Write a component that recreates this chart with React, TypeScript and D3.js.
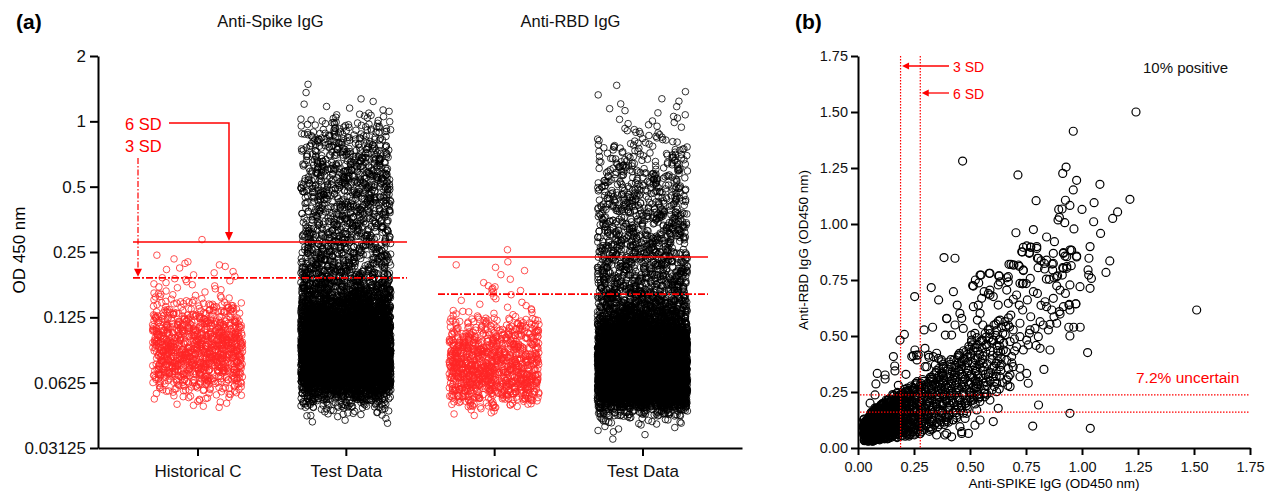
import React, { useRef, useEffect } from "react";
import * as d3 from "d3";

const FONT = "'Liberation Sans', Arial, Helvetica, sans-serif";
const RED = "#ff0000";
const RED_PT = "#ff2626";

// ---------- panel (a) data ----------
// OD450 bin centres, steps of 1/8 in log2
const odBins = [
  0.0353, 0.0385, 0.042, 0.0458, 0.05, 0.0545, 0.0595, 0.0648, 0.0707, 0.0771, 0.0841,
  0.0917, 0.1, 0.109, 0.119, 0.13, 0.1414, 0.1542, 0.1682, 0.1834, 0.2, 0.218, 0.238,
  0.259, 0.283, 0.308, 0.336, 0.367, 0.4, 0.436, 0.476, 0.519, 0.566, 0.617, 0.673,
  0.734, 0.8, 0.872, 0.951, 1.037, 1.131, 1.234, 1.345, 1.467,
];
const groupKeys = ["spikeHist", "spikeTest", "rbdHist", "rbdTest"];
const groupLabels = ["Historical C", "Test Data", "Historical C", "Test Data"];
const panelTitles = ["Anti-Spike IgG", "Anti-RBD IgG"];
// number of samples per OD bin
const spikeHistCounts = [
  0, 0, 0, 0, 8, 18, 40, 70, 100, 120, 130, 130, 120, 100, 80, 55, 35, 15, 8, 8, 5, 5, 2,
  0, 1, 0, 0, 0, 0, 0, 0, 0, 0, 0, 0, 0, 0, 0, 0, 0, 0, 0, 0, 0,
];
const spikeTestCounts = [
  0, 0, 5, 20, 60, 150, 300, 450, 550, 600, 600, 580, 520, 450, 380, 320, 260, 200, 150,
  115, 95, 82, 76, 72, 68, 66, 64, 64, 64, 66, 68, 70, 68, 64, 58, 52, 46, 38, 28, 13, 5,
  3, 1, 1,
];
const rbdHistCounts = [
  0, 0, 0, 6, 35, 80, 110, 130, 130, 125, 115, 100, 80, 60, 40, 12, 5, 4, 7, 2, 2, 3, 0,
  1, 0, 0, 0, 0, 0, 0, 0, 0, 0, 0, 0, 0, 0, 0, 0, 0, 0, 0, 0, 0,
];
const rbdTestCounts = [
  2, 6, 20, 80, 250, 450, 600, 680, 700, 680, 620, 540, 450, 360, 270, 190, 140, 115, 98,
  88, 82, 78, 74, 70, 68, 66, 62, 58, 55, 52, 48, 43, 38, 34, 29, 22, 16, 10, 7, 5, 4, 3,
  2, 1,
];
const yTickValues = [0.03125, 0.0625, 0.125, 0.25, 0.5, 1, 2];
const yTickLabels = ["0.03125", "0.0625", "0.125", "0.25", "0.5", "1", "2"];
const spikeCutoffs = [0.278, 0.19]; // 6 SD, 3 SD
const rbdCutoffs = [0.237, 0.16]; // 6 SD, 3 SD

// ---------- panel (b) data ----------
// dense diagonal band: x bin centre, y range and count
const bandX = [
  0.0375, 0.0625, 0.0875, 0.1125, 0.1375, 0.1625, 0.1875, 0.2125, 0.2375, 0.2625, 0.2875,
  0.3125, 0.3375, 0.3625, 0.3875, 0.4125, 0.4375, 0.4625, 0.4875, 0.5125, 0.5375, 0.5625,
  0.5875, 0.6125, 0.6375, 0.6625, 0.6875,
];
const bandLo = [
  0.03, 0.03, 0.035, 0.04, 0.04, 0.045, 0.05, 0.05, 0.05, 0.055, 0.06, 0.07, 0.08, 0.09,
  0.1, 0.11, 0.13, 0.15, 0.17, 0.19, 0.2, 0.22, 0.23, 0.24, 0.25, 0.26, 0.3,
];
const bandHi = [
  0.13, 0.16, 0.18, 0.2, 0.22, 0.24, 0.25, 0.27, 0.28, 0.3, 0.31, 0.32, 0.34, 0.36, 0.38,
  0.4, 0.42, 0.44, 0.46, 0.48, 0.5, 0.52, 0.54, 0.56, 0.58, 0.6, 0.62,
];
const bandN = [
  90, 140, 130, 105, 80, 62, 50, 42, 36, 33, 30, 29, 28, 27, 27, 27, 26, 25, 24, 22, 20,
  18, 16, 14, 12, 9, 6,
];
// individually readable points [anti-spike, anti-RBD]
const scatterPts: [number, number][] = [
  [1.241, 1.5], [0.961, 1.414], [0.467, 1.281], [0.714, 1.219], [0.929, 1.254], [0.914, 1.226],
  [0.976, 1.195], [1.08, 1.177], [0.961, 1.152], [0.795, 1.104], [0.926, 1.106], [1.054, 1.095],
  [1.214, 1.11], [0.946, 1.083], [0.896, 1.065], [0.911, 1.067], [1.0, 1.065], [1.159, 1.054],
  [1.137, 1.025], [0.893, 1.018], [0.899, 1.03], [0.923, 1.006], [1.052, 1.01], [0.964, 0.978],
  [0.783, 0.975], [0.705, 0.961], [1.083, 0.958], [0.842, 0.942], [0.877, 0.921], [0.738, 0.896],
  [0.771, 0.897], [0.798, 0.891], [0.952, 0.884], [1.036, 0.899],
  [0.384, 0.85], [0.433, 0.847], [0.734, 0.875], [0.765, 0.872], [0.917, 0.872], [0.954, 0.882],
  [0.924, 0.857], [0.976, 0.853], [1.031, 0.847], [1.124, 0.835], [1.107, 0.784], [0.801, 0.847],
  [0.817, 0.836], [0.832, 0.824], [0.804, 0.805], [0.833, 0.799], [0.867, 0.821], [0.914, 0.805],
  [0.952, 0.814], [0.932, 0.802], [1.027, 0.795], [1.042, 0.757], [1.036, 0.713], [0.674, 0.82],
  [0.696, 0.817], [0.72, 0.811], [0.738, 0.792], [0.549, 0.772], [0.586, 0.78], [0.524, 0.75],
  [0.515, 0.723], [0.631, 0.768], [0.664, 0.76], [0.634, 0.742], [0.671, 0.742], [0.769, 0.757],
  [0.841, 0.754], [0.875, 0.76], [0.891, 0.769], [0.887, 0.724], [0.946, 0.728], [0.991, 0.72],
  [0.734, 0.733], [0.327, 0.716], [0.426, 0.698], [1.03, 0.772], [0.972, 0.643], [0.942, 0.638],
  [0.941, 0.539], [0.963, 0.539], [0.992, 0.539], [0.946, 0.5], [1.025, 0.426], [1.512, 0.616],
  [0.78, 0.098], [0.806, 0.192], [0.946, 0.155], [1.037, 0.088], [0.253, 0.676], [0.36, 0.661],
  [0.396, 0.577], [0.39, 0.504], [0.443, 0.638], [0.455, 0.601], [0.333, 0.539], [0.295, 0.527],
  [0.1875, 0.482], [0.207, 0.507], [0.158, 0.408], [0.164, 0.366], [0.086, 0.333], [0.08, 0.286],
  [0.214, 0.329], [0.254, 0.4375], [0.262, 0.415], [0.247, 0.412], [0.263, 0.393], [0.299, 0.363],
  [0.317, 0.405], [0.351, 0.423], [0.359, 0.4], [0.373, 0.393], [0.345, 0.371],
  [0.512, 0.725], [0.539, 0.737], [0.545, 0.772], [0.589, 0.78], [0.628, 0.768], [0.671, 0.765],
  [0.683, 0.82], [0.693, 0.817], [0.716, 0.817], [0.738, 0.795], [0.738, 0.735], [0.751, 0.734],
  [0.723, 0.735], [0.589, 0.705], [0.604, 0.676], [0.563, 0.698], [0.582, 0.69], [0.626, 0.728],
  [0.664, 0.705], [0.671, 0.646], [0.693, 0.664], [0.708, 0.683], [0.72, 0.638], [0.756, 0.661],
  [0.783, 0.698], [0.801, 0.69], [0.817, 0.637], [0.835, 0.653], [0.842, 0.631], [0.865, 0.616],
  [0.875, 0.586], [0.857, 0.552], [0.827, 0.549], [0.79, 0.534], [0.768, 0.527], [0.753, 0.482],
  [0.765, 0.512], [0.723, 0.497], [0.693, 0.527], [0.671, 0.549], [0.656, 0.564], [0.634, 0.571],
  [0.616, 0.554], [0.589, 0.527], [0.557, 0.549], [0.545, 0.601], [0.533, 0.571], [0.522, 0.512],
  [0.507, 0.482], [0.554, 0.482], [0.604, 0.482], [0.634, 0.485], [0.679, 0.475], [0.708, 0.452],
  [0.738, 0.438], [0.76, 0.46], [0.795, 0.458], [0.813, 0.445], [0.805, 0.497], [0.753, 0.902],
  [0.771, 0.896], [0.798, 0.899], [0.731, 0.876], [0.765, 0.869], [0.805, 0.847], [0.842, 0.839],
  [0.872, 0.824], [0.869, 0.795], [0.887, 0.765], [0.912, 0.772], [0.917, 0.802], [0.932, 0.81],
  [0.932, 0.854], [0.946, 0.884], [0.872, 0.869], [0.917, 0.869], [0.976, 0.857], [0.854, 0.753],
  [0.902, 0.705], [0.926, 0.69], [0.872, 0.668], [0.917, 0.631], [0.946, 0.616], [0.902, 0.598],
  [0.887, 0.557], [0.85, 0.527], [0.813, 0.564], [0.723, 0.557], [0.735, 0.616], [0.771, 0.586],
  [0.664, 0.304], [0.679, 0.274], [0.619, 0.289], [0.604, 0.318], [0.634, 0.363], [0.693, 0.363],
  [0.723, 0.356], [0.753, 0.333], [0.76, 0.289], [0.723, 0.318], [0.686, 0.408], [0.649, 0.4375],
  [0.616, 0.378], [0.582, 0.333], [0.563, 0.244], [0.545, 0.229], [0.515, 0.214], [0.53, 0.17],
  [0.485, 0.155], [0.455, 0.095], [0.493, 0.065], [0.545, 0.125], [0.604, 0.118], [0.626, 0.177],
  [0.589, 0.214], [0.56, 0.289], [0.53, 0.274], [0.5, 0.251], [0.478, 0.199], [0.426, 0.125],
  [0.396, 0.118], [0.351, 0.058], [0.277, 0.065], [0.247, 0.073], [0.396, 0.065], [0.463, 0.065],
  [0.314, 0.143], [0.292, 0.177], [0.217, 0.155], [0.121, 0.326], [0.121, 0.308], [0.165, 0.344],
  [0.269, 0.415], [0.24, 0.408], [0.299, 0.445], [0.314, 0.415], [0.307, 0.363], [0.336, 0.408],
  [0.373, 0.385], [0.396, 0.579], [0.418, 0.504], [0.433, 0.549], [0.463, 0.579], [0.47, 0.534],
  [0.515, 0.631], [0.537, 0.638], [0.507, 0.504], [0.552, 0.668], [0.589, 0.683], [0.626, 0.638],
  [0.076, 0.237], [0.054, 0.2], [0.18, 0.28], [0.225, 0.251], [0.329, 0.28], [0.388, 0.237],
  [0.478, 0.132], [0.522, 0.102], [0.463, 0.073], [0.418, 0.05], [0.388, 0.058], [0.943, 0.641],
  [0.973, 0.644], [0.857, 0.4375], [0.83, 0.351], [0.899, 0.609],
];
const xTicksB = [0, 0.25, 0.5, 0.75, 1, 1.25, 1.5, 1.75];

// deterministic scatter for horizontal jitter (layout only)
const frac = (v: number) => v - Math.floor(v);
const jit = (i: number) => frac(Math.sin(i * 12.9898 + 78.233) * 43758.5453);

const App = () => {
  const svgRef = useRef<SVGSVGElement>(null);

  useEffect(() => {
    const svg = d3.select(svgRef.current);
    svg.selectAll("*").remove();

    // ================= panel (a) =================
    const yA = d3.scaleLog().base(2).domain([0.03125, 2]).range([448, 56]);
    const xA = d3.scalePoint().domain(groupKeys).range([98, 742]).padding(0.671);
    const halfW = 45;
    const groupCounts = [spikeHistCounts, spikeTestCounts, rbdHistCounts, rbdTestCounts];
    const groupColors = [RED_PT, "#000", RED_PT, "#000"];

    const gA = svg.append("g");
    let k = 1;
    groupKeys.forEach((key, gi) => {
      const cx = xA(key) as number;
      const pts: { x: number; y: number }[] = [];
      groupCounts[gi].forEach((n, b) => {
        const l0 = Math.log2(odBins[b]) - 1 / 16;
        for (let j = 0; j < n; j++, k++) {
          // spread evenly through the bin, small vertical wobble
          const t = Math.min(1, Math.max(0, (j + 0.5) / n + (jit(k * 3 + 1) - 0.5) * 0.3 / Math.max(n, 1)));
          const v = Math.pow(2, l0 + t / 8);
          pts.push({ x: cx + (jit(k) - 0.5) * 2 * halfW, y: yA(v) });
        }
      });
      gA.append("g")
        .selectAll("circle")
        .data(pts)
        .enter()
        .append("circle")
        .attr("cx", (d) => d.x)
        .attr("cy", (d) => d.y)
        .attr("r", 3.3)
        .attr("fill", "none")
        .attr("stroke", groupColors[gi])
        .attr("stroke-width", 0.8);
    });

    // axes
    const axY = svg
      .append("g")
      .attr("transform", "translate(98,0)")
      .call(
        d3
          .axisLeft(yA)
          .tickValues(yTickValues)
          .tickFormat((d, i) => yTickLabels[i])
          .tickSize(8)
          .tickSizeOuter(0)
          .tickPadding(4)
      );
    const axX = svg
      .append("g")
      .attr("transform", "translate(0,448)")
      .call(
        d3
          .axisBottom(xA)
          .tickFormat((d, i) => groupLabels[i])
          .tickSize(8)
          .tickSizeOuter(0)
          .tickPadding(9)
      );
    [axY, axX].forEach((ax) => {
      ax.select(".domain").attr("stroke", "#000").attr("stroke-width", 2);
      ax.selectAll(".tick line").attr("stroke", "#000").attr("stroke-width", 2);
      ax.selectAll(".tick text")
        .attr("font-family", FONT)
        .attr("font-size", 17)
        .attr("fill", "#111");
    });

    svg.append("text")
      .attr("transform", "translate(25,250) rotate(-90)")
      .attr("text-anchor", "middle")
      .attr("font-family", FONT)
      .attr("font-size", 17)
      .text("OD 450 nm");

    svg.append("text")
      .attr("x", 16)
      .attr("y", 29)
      .attr("font-family", FONT)
      .attr("font-weight", "bold")
      .attr("font-size", 21)
      .text("(a)");

    [270.5, 570.5].forEach((x, i) => {
      svg.append("text")
        .attr("x", x)
        .attr("y", 27)
        .attr("text-anchor", "middle")
        .attr("font-family", FONT)
        .attr("font-size", 16.5)
        .attr("fill", "#111")
        .text(panelTitles[i]);
    });

    // cut-off lines
    const cutLines = [
      { x1: 133, x2: 407, cuts: spikeCutoffs, w: 1.5 },
      { x1: 438, x2: 708, cuts: rbdCutoffs, w: 1.5 },
    ];
    cutLines.forEach((c) => {
      svg.append("line")
        .attr("x1", c.x1).attr("x2", c.x2)
        .attr("y1", yA(c.cuts[0])).attr("y2", yA(c.cuts[0]))
        .attr("stroke", RED).attr("stroke-width", c.w);
      svg.append("line")
        .attr("x1", c.x1).attr("x2", c.x2)
        .attr("y1", yA(c.cuts[1])).attr("y2", yA(c.cuts[1]))
        .attr("stroke", RED).attr("stroke-width", c.w + 0.3)
        .attr("stroke-dasharray", "7,2,2,2");
    });

    // annotations
    const y6 = yA(spikeCutoffs[0]);
    const y3 = yA(spikeCutoffs[1]);
    svg.append("path")
      .attr("d", `M169,123 H229 V${y6 - 9}`)
      .attr("fill", "none")
      .attr("stroke", RED)
      .attr("stroke-width", 1.5);
    svg.append("path")
      .attr("d", `M225,${y6 - 10} L233,${y6 - 10} L229,${y6 - 1} Z`)
      .attr("fill", RED);
    svg.append("line")
      .attr("x1", 138).attr("x2", 138)
      .attr("y1", 158).attr("y2", y3 - 8)
      .attr("stroke", RED)
      .attr("stroke-width", 1.2)
      .attr("stroke-dasharray", "6,2,1.5,2");
    svg.append("path")
      .attr("d", `M134,${y3 - 9} L142,${y3 - 9} L138,${y3 - 1} Z`)
      .attr("fill", RED);
    ["6 SD", "3 SD"].forEach((t, i) => {
      svg.append("text")
        .attr("x", 125)
        .attr("y", 130 + i * 22)
        .attr("font-family", FONT)
        .attr("font-size", 16.5)
        .attr("fill", RED)
        .text(t);
    });

    // ================= panel (b) =================
    const xB = d3.scaleLinear().domain([0, 1.75]).range([858, 1250]);
    const yB = d3.scaleLinear().domain([0, 1.75]).range([448, 56]);

    const bPts: [number, number][] = [];
    let m = 50000;
    bandX.forEach((bx, i) => {
      const n = bandN[i];
      for (let j = 0; j < n; j++, m++) {
        const t = (j + 0.5) / n;
        bPts.push([bx + (jit(m) - 0.5) * 0.025, bandLo[i] + t * (bandHi[i] - bandLo[i])]);
      }
    });
    scatterPts.forEach((p) => bPts.push(p));

    svg.append("g")
      .selectAll("circle")
      .data(bPts)
      .enter()
      .append("circle")
      .attr("cx", (d) => xB(d[0]))
      .attr("cy", (d) => yB(d[1]))
      .attr("r", 4)
      .attr("fill", "none")
      .attr("stroke", "#000")
      .attr("stroke-width", 1.2);

    const axYB = svg
      .append("g")
      .attr("transform", "translate(858,0)")
      .call(
        d3.axisLeft(yB).tickValues(xTicksB).tickFormat(d3.format(".2f")).tickSize(7).tickSizeOuter(0).tickPadding(3)
      );
    const axXB = svg
      .append("g")
      .attr("transform", "translate(0,448)")
      .call(
        d3.axisBottom(xB).tickValues(xTicksB).tickFormat(d3.format(".2f")).tickSize(7).tickSizeOuter(0).tickPadding(7)
      );
    [axYB, axXB].forEach((ax) => {
      ax.select(".domain").attr("stroke", "#000").attr("stroke-width", 2);
      ax.selectAll(".tick line").attr("stroke", "#000").attr("stroke-width", 2);
      ax.selectAll(".tick text")
        .attr("font-family", FONT)
        .attr("font-size", 14.5)
        .attr("fill", "#111");
    });

    svg.append("text")
      .attr("transform", "translate(808,250) rotate(-90)")
      .attr("text-anchor", "middle")
      .attr("font-family", FONT)
      .attr("font-size", 13.5)
      .text("Anti-RBD IgG (OD450 nm)");
    svg.append("text")
      .attr("x", 1054)
      .attr("y", 488)
      .attr("text-anchor", "middle")
      .attr("font-family", FONT)
      .attr("font-size", 13.5)
      .text("Anti-SPIKE IgG (OD450 nm)");

    svg.append("text")
      .attr("x", 795)
      .attr("y", 29)
      .attr("font-family", FONT)
      .attr("font-weight", "bold")
      .attr("font-size", 21)
      .text("(b)");

    // cut-off dotted lines
    [spikeCutoffs[1], spikeCutoffs[0]].forEach((c) => {
      svg.append("line")
        .attr("x1", xB(c)).attr("x2", xB(c))
        .attr("y1", 56).attr("y2", 448)
        .attr("stroke", RED).attr("stroke-width", 1.2)
        .attr("stroke-dasharray", "1.5,1.5");
    });
    rbdCutoffs.forEach((c) => {
      svg.append("line")
        .attr("x1", 860).attr("x2", 1250)
        .attr("y1", yB(c)).attr("y2", yB(c))
        .attr("stroke", RED).attr("stroke-width", 1.2)
        .attr("stroke-dasharray", "1.5,1.5");
    });

    // arrows for 3 SD / 6 SD
    const arrows = [
      { label: "3 SD", cut: spikeCutoffs[1], y: 66 },
      { label: "6 SD", cut: spikeCutoffs[0], y: 93 },
    ];
    arrows.forEach((a) => {
      const tip = xB(a.cut) + 1.5;
      svg.append("line")
        .attr("x1", 949).attr("x2", tip + 5)
        .attr("y1", a.y).attr("y2", a.y)
        .attr("stroke", RED).attr("stroke-width", 1.3);
      svg.append("path")
        .attr("d", `M${tip},${a.y} L${tip + 7},${a.y - 3.5} L${tip + 7},${a.y + 3.5} Z`)
        .attr("fill", RED);
      svg.append("text")
        .attr("x", 953)
        .attr("y", a.y + 6)
        .attr("font-family", FONT)
        .attr("font-size", 14)
        .attr("fill", RED)
        .text(a.label);
    });

    svg.append("text")
      .attr("x", 1143)
      .attr("y", 73)
      .attr("font-family", FONT)
      .attr("font-size", 15)
      .attr("fill", "#111")
      .text("10% positive");
    svg.append("text")
      .attr("x", 1136)
      .attr("y", 383)
      .attr("font-family", FONT)
      .attr("font-size", 15.5)
      .attr("fill", RED)
      .text("7.2% uncertain");
  }, []);

  return (
    <svg
      ref={svgRef}
      width={1266}
      height={492}
      style={{ position: "absolute", left: 0, top: 0, background: "#fff" }}
    />
  );
};

export default App;
